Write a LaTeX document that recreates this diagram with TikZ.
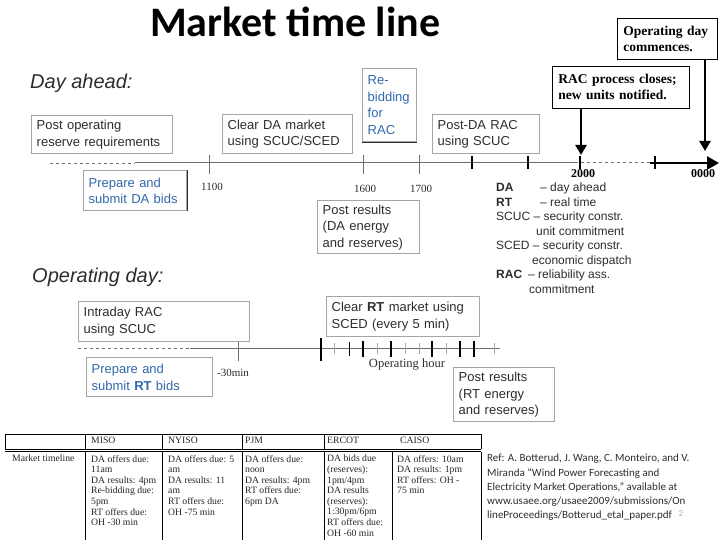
\documentclass[tikz,border=0pt]{standalone}
\usepackage{fontspec}
\setmainfont{Liberation Serif}
\setsansfont{Liberation Sans}
\newfontfamily\calibri{Carlito}
\usetikzlibrary{positioning,arrows.meta}
\definecolor{boxline}{RGB}{165,165,165}
\definecolor{ink}{RGB}{45,45,45}
\definecolor{bidblue}{RGB}{50,105,170}
\definecolor{axis}{RGB}{110,110,110}
\definecolor{faint}{RGB}{170,170,170}

\tikzset{
  panel/.style={draw=boxline, line width=1.4pt, fill=white, anchor=north west, align=left,
    inner xsep=5pt, inner ysep=2pt, text=ink, font=\sffamily\fontsize{13}{16.5}\selectfont},
  bidpanel/.style={panel, text=bidblue},
  callout/.style={draw, line width=0.8pt, anchor=north west, align=left, inner xsep=6pt,
    font=\bfseries\fontsize{13.5}{16}\selectfont},
  callarrow/.style={line width=2.4pt, -{Triangle[length=10pt,width=11pt]}},
  heading/.style={anchor=north west, inner sep=0pt, text=ink, font=\sffamily\itshape\fontsize{20}{24}\selectfont},
  ticklabel/.style={inner sep=0pt, text=ink, font=\fontsize{11}{13}\selectfont},
  hourlabel/.style={ticklabel, font=\bfseries\fontsize{12}{14}\selectfont, text=black},
  cell/.style={anchor=north west, align=left, inner sep=0pt, text=black!85, font=\fontsize{9.7}{10.6}\selectfont},
  bigtick/.style={line width=2.2pt},
  lighttick/.style={draw=faint, line width=1pt},
}

\begin{document}
\begin{tikzpicture}[x=1pt,y=-1pt]
\useasboundingbox[fill=white] (0,0) rectangle (720,540);

% title
\node[anchor=north west, inner sep=0pt, font=\calibri\bfseries\fontsize{42}{46}\selectfont] (title) at (150,7) {Market time line};

% ---- day ahead ----
\node[heading] (dahead) at (30,74) {Day ahead:};

\coordinate (daStart) at (50,163); \coordinate (daSolid) at (135,163);
\coordinate (daFade) at (575,163); \coordinate (daBold) at (650,163); \coordinate (daEnd) at (719,163);
\draw[axis, dashed, thin] (daStart) -- (daSolid);
\draw[axis, line width=1pt] (daSolid) -- (daFade);
\draw[axis, dashed, line width=1pt] (daFade) -- (daBold);
\draw[line width=2.6pt, -{Triangle[length=12pt,width=13pt]}] (daBold) -- (daEnd);
\foreach \x in {209,363,419} \draw[axis, line width=1pt] (\x,155) -- (\x,174);
\foreach \x in {472,528,580,655} \draw[bigtick] (\x,156) -- (\x,169);

\node[ticklabel] (t1100) at (212,187) {1100};
\node[ticklabel] (t1600) at (365,189) {1600};
\node[ticklabel] (t1700) at (421,189) {1700};
\node[hourlabel] (t2000) at (583,174) {2000};
\node[hourlabel] (t0000) at (703,174) {0000};

\node[panel, text width=131pt, minimum height=38pt] (postres) at (31,115) {Post operating\\reserve requirements};
\node[bidpanel, text width=93pt, minimum height=40pt] (prepda) at (83,170) {Prepare and\\submit DA bids};
\draw[ink, line width=1pt] (prepda.north east) -- (prepda.south east);
\node[panel, text width=120pt, minimum height=39pt] (clearda) at (222,114) {Clear DA market\\using SCUC/SCED};
\node[bidpanel, text width=44pt, minimum height=73pt] (rebid) at (362,68) {Re-\\bidding\\for\\RAC};
\draw[ink, line width=1pt] (rebid.south west) -- (rebid.south east);
\node[panel, text width=97pt, minimum height=39pt] (postda) at (432,114) {Post-DA RAC\\using SCUC};
\node[panel, text width=92pt, minimum height=53pt] (postresda) at (317,200) {Post results\\(DA energy\\and reserves)};

\node[callout, text width=88pt, minimum height=41pt] (opday) at (617,18) {Operating day\\commences.};
\node[callout, text width=125pt, minimum height=42pt] (racclose) at (552,66) {RAC process closes;\\new units notified.};
\coordinate (tip2000) at (581,155);
\coordinate (tip0000) at (705,151);
\draw[callarrow] (racclose.south -| tip2000) -- (tip2000);
\draw[callarrow] (opday.south -| tip0000) -- (tip0000);

% legend
\node[anchor=north west, align=left, inner sep=0pt, text=ink, font=\sffamily\fontsize{12}{14.5}\selectfont] (abbr) at (496,183)
  {\makebox[44pt][l]{\textbf{DA}}-- day ahead\\
   \makebox[44pt][l]{\textbf{RT}}-- real time\\
   SCUC -- security constr.\\
   \hspace*{40pt}unit commitment\\
   SCED -- security constr.\\
   \hspace*{36pt}economic dispatch\\
   \makebox[32pt][l]{\textbf{RAC}}-- reliability ass.\\
   \hspace*{33pt}commitment};

% ---- operating day ----
\node[heading] (ophead) at (32,268) {Operating day:};

\coordinate (odStart) at (78,348); \coordinate (odSolid) at (190,348); \coordinate (odEnd) at (500,348);
\draw[axis, dashed, thin] (odStart) -- (odSolid);
\draw[axis, line width=1pt] (odSolid) -- (odEnd);
\draw[axis, line width=1pt] (238,336) -- (238,361);
\draw[bigtick] (321,338) -- (321,361);
\foreach \x in {363,391,432,460,474} \draw[bigtick] (\x,341) -- (\x,357);
\draw[line width=1pt] (349,342) -- (349,356);
\foreach \x in {334,377,405,419,446,494} \draw[lighttick] (\x,343) -- (\x,354);

\node[ticklabel] (t30) at (233,373) {-30min};
\node[ticklabel, font=\fontsize{12.5}{14}\selectfont] (ophour) at (407,365) {Operating hour};

\node[panel, text width=161pt, minimum height=40pt] (intraday) at (78,301) {Intraday RAC\\using SCUC};
\node[panel, text width=143pt, minimum height=40pt] (clearrt) at (326,296) {Clear \textbf{RT} market using\\SCED (every 5 min)};
\node[bidpanel, text width=116pt, minimum height=39pt] (preprt) at (86,357) {Prepare and\\submit \textbf{RT} bids};
\node[panel, text width=91pt, minimum height=54pt] (postrt) at (453,367) {Post results\\(RT energy\\and reserves)};

% ---- table ----
\draw[line width=0.8pt] (5,434) -- (481,434);
\draw[line width=0.6pt] (5,449) -- (481,449) (5,451.5) -- (481,451.5);
\foreach \x in {5,85,162,242,324,481} \draw[line width=0.8pt] (\x,434) -- (\x,449);
\foreach \x in {85,162,242,324,392,481} \draw[line width=0.8pt] (\x,451.5) -- (\x,540);

\node[cell] (hMISO) at (91,437) {MISO};
\node[cell] (hNYISO) at (168,437) {NYISO};
\node[cell] (hPJM) at (245,437) {PJM};
\node[cell] (hERCOT) at (327,437) {ERCOT};
\node[cell] (hCAISO) at (400,437) {CAISO};

\node[cell] (cRow) at (12,455) {Market timeline};
\node[cell] (cMISO) at (91,455) {DA offers due:\\11am\\DA results: 4pm\\Re-bidding due:\\5pm\\RT offers due:\\OH -30 min};
\node[cell] (cNYISO) at (168,455) {DA offers due: 5\\am\\DA results: 11\\am\\RT offers due:\\OH -75 min};
\node[cell] (cPJM) at (245,455) {DA offers due:\\noon\\DA results: 4pm\\RT offers due:\\6pm DA};
\node[cell] (cERCOT) at (327,455) {DA bids due\\(reserves):\\1pm/4pm\\DA results\\(reserves):\\1:30pm/6pm\\RT offers due:\\OH -60 min};
\node[cell] (cCAISO) at (397,455) {DA offers: 10am\\DA results: 1pm\\RT offers: OH -\\75 min};

% reference
\node[anchor=north west, align=left, inner sep=0pt, text=ink, font=\calibri\fontsize{11}{14.2}\selectfont] (refnote) at (487,454)
  {Ref: A. Botterud, J. Wang, C. Monteiro, and V.\\
   Miranda “Wind Power Forecasting and\\
   Electricity Market Operations,” available at\\
   www.usaee.org/usaee2009/submissions/On\\
   lineProceedings/Botterud\_etal\_paper.pdf};
\node[inner sep=0pt, text=faint, font=\calibri\fontsize{9}{10}\selectfont] (slideno) at (681,514) {2};
\end{tikzpicture}
\end{document}
